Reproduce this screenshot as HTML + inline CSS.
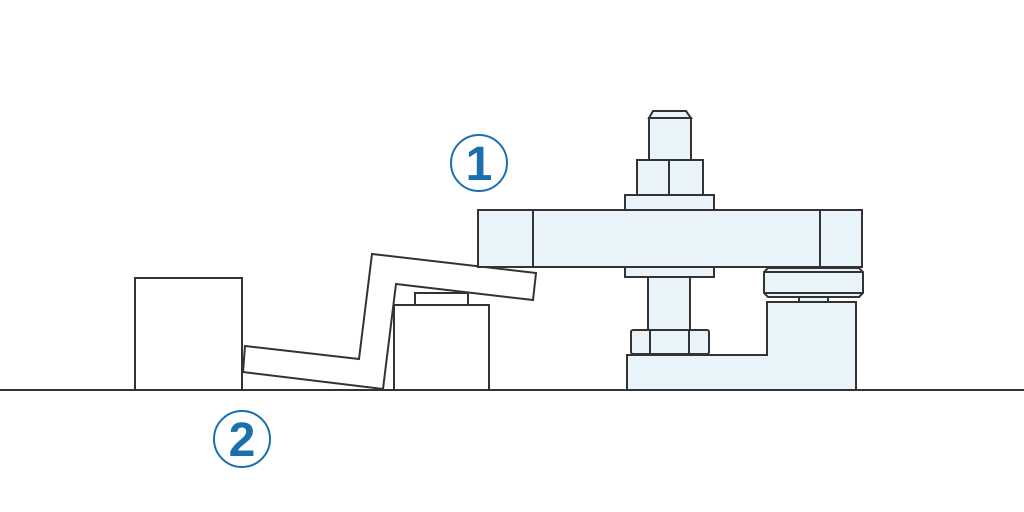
<!DOCTYPE html>
<html><head><meta charset="utf-8"><style>html,body{margin:0;padding:0;background:#fff}svg{display:block}</style></head>
<body>
<svg width="1024" height="512" viewBox="0 0 1024 512" xmlns="http://www.w3.org/2000/svg">
<g stroke="#333" stroke-width="2" fill="#fff" stroke-linejoin="miter">
<rect x="135" y="278" width="107" height="112"/>
<rect x="394" y="305" width="95" height="85"/>
<rect x="415" y="293" width="53" height="12"/>
<polygon points="372,254 536,273 533,300 396,284 383,389 243,372 245,346 359,359"/>
</g>
<g stroke="#333" stroke-width="2" fill="#e8f3fa">
<polygon points="653,111 686,111 691,118 649,118"/>
<rect x="649" y="118" width="42" height="42"/>
<rect x="637" y="160" width="66" height="35"/>
<line x1="669" y1="160" x2="669" y2="195"/>
<rect x="625" y="195" width="89" height="15"/>
<rect x="478" y="210" width="384" height="57"/>
<line x1="533" y1="210" x2="533" y2="267"/>
<line x1="820" y1="210" x2="820" y2="267"/>
<rect x="625" y="267" width="89" height="10"/>
<rect x="648" y="277" width="42" height="53"/>
<polygon points="627,355 767,355 767,302 856,302 856,390 627,390"/>
<rect x="799" y="297" width="29" height="5"/>
<polygon points="768,268 859,268 863,272 863,293 859,297 768,297 764,293 764,272"/>
<line x1="764" y1="272" x2="863" y2="272"/>
<line x1="764" y1="293" x2="863" y2="293"/>
<rect x="631" y="330" width="78" height="24" rx="2"/>
<line x1="650" y1="331" x2="650" y2="354"/>
<line x1="689" y1="331" x2="689" y2="354"/>
</g>
<line x1="0" y1="390" x2="1024" y2="390" stroke="#333" stroke-width="2"/>
<g fill="none" stroke="#1a6fad" stroke-width="2">
<circle cx="479" cy="163" r="28"/>
<circle cx="242" cy="439" r="28"/>
</g>
<g fill="#1a6fad" font-family="Liberation Sans, sans-serif" font-weight="bold" font-size="48" text-anchor="middle">
<text x="479" y="180">1</text>
<text x="242" y="456">2</text>
</g>
</svg>
</body></html>
